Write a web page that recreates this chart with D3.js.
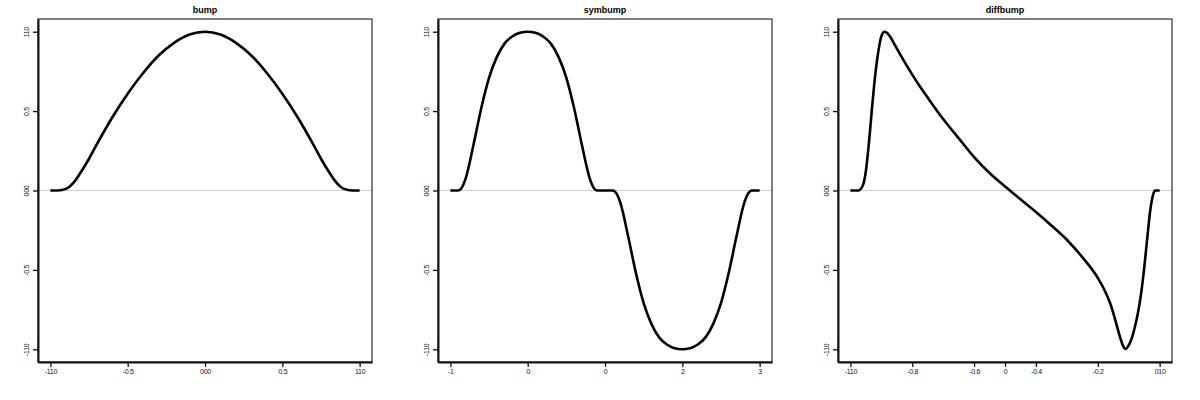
<!DOCTYPE html>
<html><head><meta charset="utf-8">
<script src="https://cdn.jsdelivr.net/npm/d3@7"></script>
<style>body{margin:0;background:#fff}svg{display:block}text{font-family:"Liberation Sans",Arial,sans-serif}</style>
</head><body><svg id="c" width="1200" height="400"></svg>
<script>
const titles = ["bump", "symbump", "diffbump"];
const yTicks = [-1, -0.5, 0, 0.5, 1];
const yTickLabels = ["-110", "-0.5", "000", "0.5", "110"];
const bumpXTicks = [-1, -0.5, 0, 0.5, 1];
const bumpXLabels = ["-110", "-0.5", "000", "0.5", "110"];
const symXTicks = [-1, 0, 1, 2, 3];
const symXLabels = ["-1", "0", "0", "2", "3"];
const diffXTicks = [-1, -0.8, -0.6, -0.5, -0.4, -0.2, 0];
const diffXLabels = ["-110", "-0.8", "-0.6", "0", "-0.4", "-0.2", "010"];

const bumpX = [-1, -0.95, -0.9, -0.85, -0.8, -0.75, -0.7, -0.6, -0.5, -0.4, -0.3, -0.2, -0.1, 0,
  0.1, 0.2, 0.3, 0.4, 0.5, 0.6, 0.7, 0.75, 0.8, 0.85, 0.9, 0.95, 1];
const bumpY = [0, 0, 0.01, 0.05, 0.12, 0.2, 0.29, 0.46, 0.61, 0.74, 0.85, 0.93, 0.982, 1,
  0.982, 0.93, 0.85, 0.74, 0.61, 0.46, 0.29, 0.2, 0.12, 0.05, 0.01, 0, 0];

const symX = [-1, -0.9, -0.85, -0.8, -0.7, -0.6, -0.5, -0.4, -0.3, -0.2, -0.1, 0, 0.1, 0.2, 0.3, 0.4,
  0.5, 0.6, 0.7, 0.8, 0.85, 0.9, 1, 1.1, 1.15, 1.2, 1.3, 1.4, 1.5, 1.6, 1.7, 1.8, 1.9, 2,
  2.1, 2.2, 2.3, 2.4, 2.5, 2.6, 2.7, 2.8, 2.85, 2.9, 3];
const symY = [0, 0, 0.02, 0.08, 0.29, 0.52, 0.71, 0.84, 0.925, 0.97, 0.993, 1, 0.993, 0.97, 0.925, 0.84,
  0.71, 0.52, 0.29, 0.08, 0.02, 0, 0, 0, -0.02, -0.08, -0.29, -0.52, -0.71, -0.84, -0.925, -0.97, -0.993, -1,
  -0.993, -0.97, -0.925, -0.84, -0.71, -0.52, -0.29, -0.08, -0.02, 0, 0];

const diffX = [-1, -0.975, -0.96, -0.95, -0.94, -0.93, -0.92, -0.91, -0.9, -0.89, -0.88, -0.87, -0.86,
  -0.84, -0.8, -0.775, -0.75, -0.7, -0.65, -0.6, -0.55, -0.5, -0.45, -0.4, -0.35, -0.3, -0.25,
  -0.2, -0.18, -0.16, -0.15, -0.14, -0.13, -0.12, -0.115, -0.11, -0.1, -0.09, -0.08, -0.07, -0.06, -0.05,
  -0.04, -0.03, -0.02, -0.015, 0];
const diffY = [0, 0, 0.03, 0.12, 0.3, 0.52, 0.72, 0.87, 0.97, 1, 0.99, 0.965, 0.93,
  0.86, 0.73, 0.655, 0.585, 0.45, 0.33, 0.21, 0.11, 0.025, -0.055, -0.135, -0.22, -0.31, -0.42,
  -0.55, -0.62, -0.71, -0.77, -0.84, -0.91, -0.97, -0.99, -0.998, -0.975, -0.93, -0.86, -0.77, -0.65, -0.49,
  -0.3, -0.12, -0.02, 0, 0];

const panels = [
  {title: titles[0], xs: bumpX, ys: bumpY, xt: bumpXTicks, xl: bumpXLabels, xd: [-1.08, 1.08]},
  {title: titles[1], xs: symX, ys: symY, xt: symXTicks, xl: symXLabels, xd: [-1.16, 3.16]},
  {title: titles[2], xs: diffX, ys: diffY, xt: diffXTicks, xl: diffXLabels, xd: [-1.04, 0.04]}
];

const svg = d3.select("#c");
const L = 38, R = 372, T = 19, B = 362;

panels.forEach((p, i) => {
  const g = svg.append("g").attr("transform", `translate(${400 * i},0)`);
  const x = d3.scaleLinear().domain(p.xd).range([L, R]);
  const y = d3.scaleLinear().domain([-1.08, 1.08]).range([B, T]);

  g.append("text").attr("x", (L + R) / 2).attr("y", 13).attr("text-anchor", "middle")
    .attr("font-size", 9).attr("font-weight", "bold").text(p.title);

  g.append("line").attr("x1", L).attr("x2", R).attr("y1", y(0)).attr("y2", y(0))
    .attr("stroke", "#cfcfcf").attr("stroke-width", 1);

  g.append("rect").attr("x", L).attr("y", T).attr("width", R - L).attr("height", B - T)
    .attr("fill", "none").attr("stroke", "#555").attr("stroke-width", 1.5);

  const xa = g.append("g").attr("transform", `translate(0,${B})`)
    .call(d3.axisBottom(x).tickValues(p.xt).tickSizeInner(5).tickSizeOuter(0).tickFormat((d, k) => p.xl[k]));
  xa.select(".domain").attr("stroke", "#111").attr("stroke-width", 2);
  xa.selectAll(".tick line").attr("stroke", "#111").attr("stroke-width", 1.3);
  xa.selectAll(".tick text").attr("font-size", 7).attr("font-family", "Liberation Sans Narrow, Arial, sans-serif")
    .attr("letter-spacing", -0.3).attr("fill", "#111").attr("y", 7);

  const ya = g.append("g").attr("transform", `translate(${L},0)`)
    .call(d3.axisLeft(y).tickValues(yTicks).tickSizeInner(5).tickSizeOuter(0).tickFormat((d, k) => yTickLabels[k]));
  ya.select(".domain").attr("stroke", "#111").attr("stroke-width", 2);
  ya.selectAll(".tick line").attr("stroke", "#111").attr("stroke-width", 1.3);
  ya.selectAll(".tick text").attr("font-size", 7).attr("font-family", "Liberation Sans Narrow, Arial, sans-serif")
    .attr("letter-spacing", -0.3).attr("fill", "#111")
    .attr("x", 0).attr("dy", 0).attr("text-anchor", "middle")
    .attr("transform", "translate(-9,0) rotate(-90)");

  const pts = p.xs.map((v, k) => [v, p.ys[k]]);
  g.append("path").datum(pts)
    .attr("d", d3.line().x(d => x(d[0])).y(d => y(d[1])).curve(d3.curveMonotoneX))
    .attr("fill", "none").attr("stroke", "#000").attr("stroke-width", 2.6)
    .attr("stroke-linejoin", "round");
});
</script></body></html>
